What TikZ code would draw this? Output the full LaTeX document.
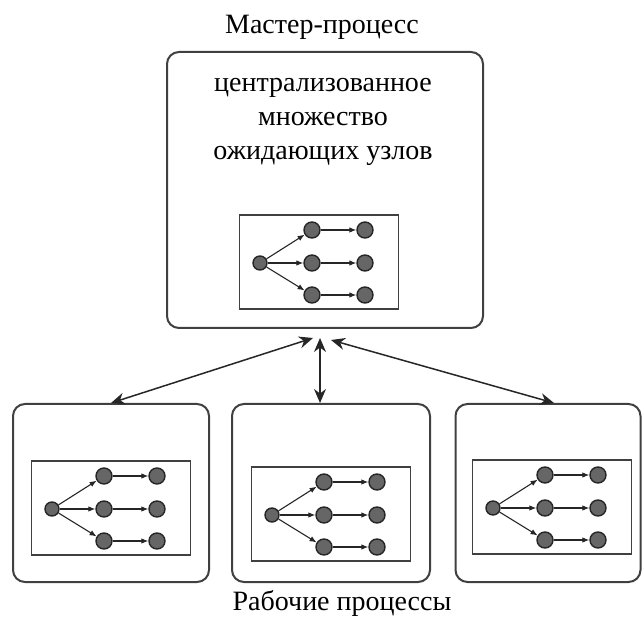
\documentclass[tikz,border=0pt]{standalone}
\usepackage{fontspec}
\setmainfont{Liberation Serif}
\usetikzlibrary{arrows.meta}

% one small task tree with its frame: #1 prefix, #2,#3 root position
\newcommand{\tasktree}[3]{%
  \node[treebox] (#1box) at ([shift={(59,-1)}]#2,#3) {};
  \node[taskdot, minimum size=7pt] (#1r) at (#2,#3) {};
  \foreach \k/\dy in {1/-33,2/0,3/32} {
    \node[taskdot] (#1m\k) at ([shift={(52,\dy)}]#1r) {};
    \node[taskdot] (#1e\k) at ([shift={(105,\dy)}]#1r) {};
    \draw[treearrow] (#1r) -- (#1m\k);
    \draw[treearrow] (#1m\k) -- (#1e\k);
  }
}

\begin{document}
\begin{tikzpicture}[x=0.5pt, y=-0.5pt,
    every node/.style={font=\fontsize{14}{16.8}\selectfont},
    procbox/.style={draw=black!75, line width=1pt, rounded corners=6pt},
    treebox/.style={draw=black!75, line width=0.9pt, minimum width=79.5pt, minimum height=47pt, inner sep=0pt},
    taskdot/.style={circle, draw=black!85, fill=black!60, line width=0.7pt, minimum size=8pt, inner sep=0pt},
    treearrow/.style={-{Latex[length=3.5pt, width=2.8pt]}, line width=0.55pt, black!85},
    linkarrow/.style={{Stealth[length=7pt, width=6pt]}-{Stealth[length=7pt, width=6pt]}, line width=0.75pt, black!85}]

\useasboundingbox (0,0) rectangle (642,619);

% ===================== MASTER =====================
\node (mastertitle) at (322,27) {Мастер-процесс};
\node[procbox, minimum width=158pt, minimum height=138pt] (master) at (325,190) {};
\node[align=center] (pooltext) at (323,122) {централизованное\\множество\\ожидающих узлов};
\tasktree{p}{260}{263}

% ===================== WORKERS =====================
\node[procbox, minimum width=98pt, minimum height=89pt] (workerL) at (111,493) {};
\node[procbox, minimum width=99pt, minimum height=89pt] (workerM) at (331,493) {};
\node[procbox, minimum width=92.5pt, minimum height=89pt] (workerR) at (548,493) {};
\tasktree{a}{52}{509}
\tasktree{b}{272}{515}
\tasktree{c}{493}{508}

\node (workertitle) at (342,603) {Рабочие процессы};

% links master <-> workers
\coordinate (hubL) at (313,338);
\coordinate (hubM) at (320,338);
\coordinate (hubR) at (331,340);
\draw[linkarrow] (hubL) -- (workerL.north);
\draw[linkarrow] (hubM) -- (hubM |- workerM.north);
\draw[linkarrow] (hubR) -- ([xshift=3pt]workerR.north);

\end{tikzpicture}
\end{document}
